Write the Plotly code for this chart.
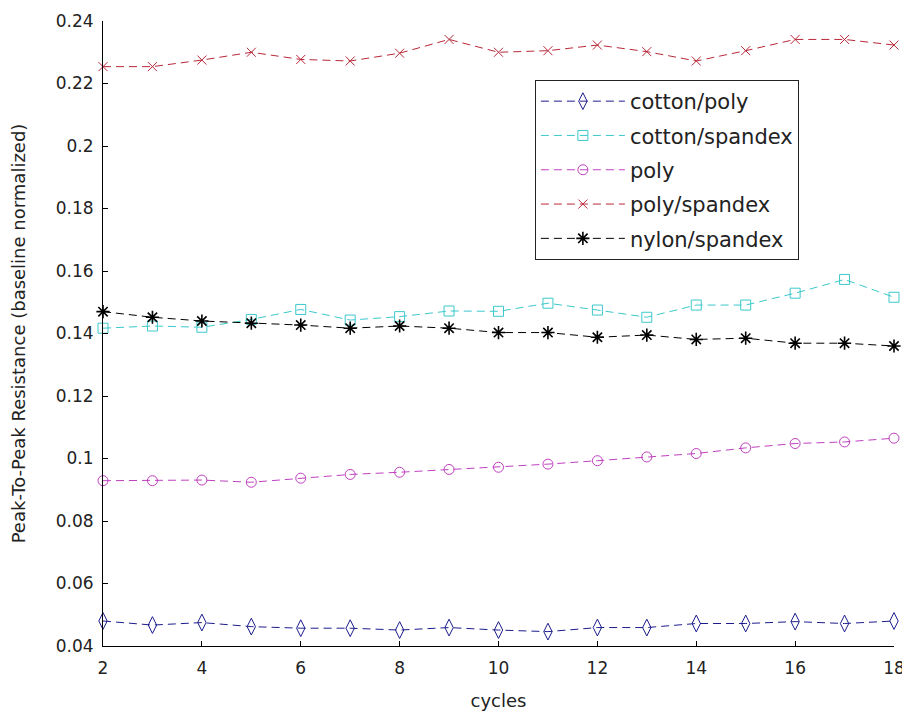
import plotly.graph_objects as go

cycles = list(range(2, 19))

cotton_poly = [0.0480, 0.0467, 0.0475, 0.0462, 0.0457, 0.0457, 0.0451, 0.0459, 0.0451,
               0.0446, 0.0459, 0.0459, 0.0472, 0.0472, 0.0478, 0.0472, 0.0480]
cotton_spandex = [0.1417, 0.1424, 0.1420, 0.1445, 0.1477, 0.1443, 0.1454, 0.1472, 0.1471,
                  0.1497, 0.1475, 0.1452, 0.1491, 0.1491, 0.1529, 0.1573, 0.1516]
poly = [0.0929, 0.0929, 0.0931, 0.0924, 0.0937, 0.0949, 0.0956, 0.0965, 0.0972,
        0.0982, 0.0993, 0.1005, 0.1016, 0.1034, 0.1048, 0.1053, 0.1065]
poly_spandex = [0.2254, 0.2254, 0.2275, 0.2300, 0.2277, 0.2272, 0.2297, 0.2341, 0.2300,
                0.2305, 0.2323, 0.2302, 0.2272, 0.2305, 0.2341, 0.2341, 0.2323]
nylon_spandex = [0.1470, 0.1452, 0.1440, 0.1433, 0.1427, 0.1417, 0.1424, 0.1417, 0.1403,
                 0.1403, 0.1388, 0.1395, 0.1381, 0.1385, 0.1369, 0.1369, 0.1360]

series_names = ["cotton/poly", "cotton/spandex", "poly", "poly/spandex", "nylon/spandex"]
series_values = [cotton_poly, cotton_spandex, poly, poly_spandex, nylon_spandex]
colors = ["#1c1c8c", "#3cc8cc", "#c040c0", "#b8283a", "#000000"]
symbols = ["diamond-tall-open", "square-open", "circle-open", "x-thin-open", "asterisk-open"]
sizes = [12, 10, 10, 9, 11]
mwidth = [1, 1, 1, 1, 1.6]

y_ticks = [0.04, 0.06, 0.08, 0.1, 0.12, 0.14, 0.16, 0.18, 0.2, 0.22, 0.24]
y_tick_labels = ["0.04", "0.06", "0.08", "0.1", "0.12", "0.14", "0.16", "0.18", "0.2", "0.22", "0.24"]
x_ticks = [2, 4, 6, 8, 10, 12, 14, 16, 18]

FONT = "DejaVu Sans"
TXT = "#222222"

fig = go.Figure()
for name, vals, c, s, sz, mw in zip(series_names, series_values, colors, symbols, sizes, mwidth):
    fig.add_trace(go.Scatter(
        x=cycles, y=vals, name=name, mode="lines+markers",
        legendgroup=name, cliponaxis=False,
        line=dict(color=c, width=1, dash="8px,5px"),
        marker=dict(symbol=s, size=sz, color=c, line=dict(color=c, width=mw)),
    ))

fig.update_layout(
    width=902, height=705,
    margin=dict(l=95, r=16, t=13, b=67),
    paper_bgcolor="white", plot_bgcolor="white",
    font=dict(family=FONT, size=16, color=TXT),
    showlegend=True,
    legend=dict(
        x=0.546, y=0.9056, xanchor="left", yanchor="top",
        bordercolor=TXT, borderwidth=1, bgcolor="white",
        font=dict(family=FONT, size=21, color=TXT),
        itemwidth=84, tracegroupgap=4, traceorder="grouped",
    ),
    xaxis=dict(
        range=[2, 18], tickvals=x_ticks, showgrid=False, zeroline=False, automargin=False,
        showline=True, linecolor="black", linewidth=1, mirror=False,
        ticks="inside", ticklen=5, tickcolor="black", ticklabelstandoff=7,
        tickfont=dict(family=FONT, size=17, color=TXT),
        title=dict(text="cycles", font=dict(family=FONT, size=18, color=TXT), standoff=16),
    ),
    yaxis=dict(
        range=[0.04, 0.24], tickvals=y_ticks, ticktext=y_tick_labels, showgrid=False, zeroline=False,
        automargin=False,
        showline=True, linecolor="black", linewidth=1, mirror=False,
        ticks="inside", ticklen=5, tickcolor="black", ticklabelstandoff=5,
        tickfont=dict(family=FONT, size=17, color=TXT),
        title=dict(text="Peak-To-Peak Resistance (baseline normalized)",
                   font=dict(family=FONT, size=18, color=TXT), standoff=29),
    ),
)

fig.write_html("out.html")
